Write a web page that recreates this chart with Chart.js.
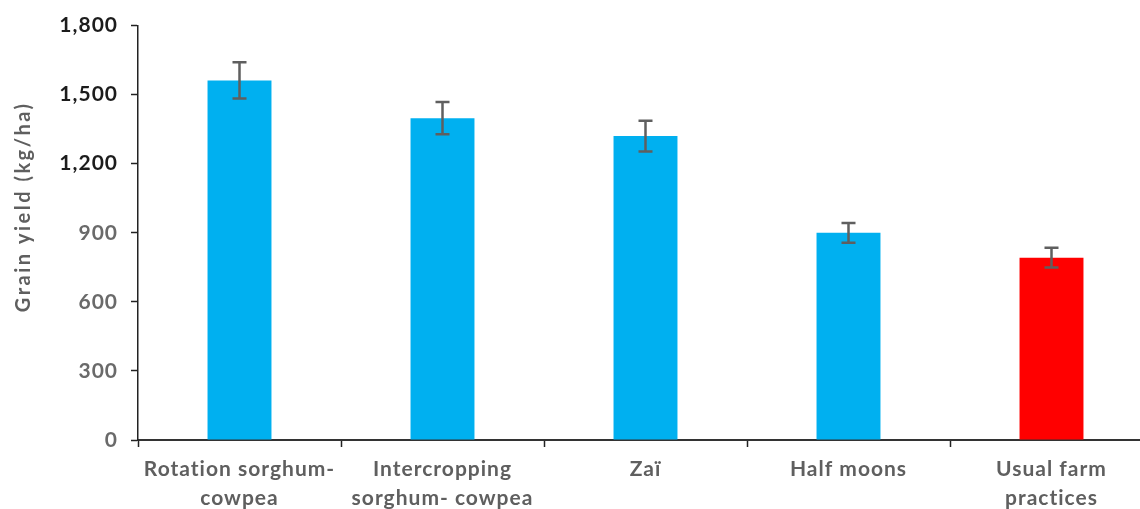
<!DOCTYPE html>
<html>
<head>
<meta charset="utf-8">
<script src="https://cdn.jsdelivr.net/npm/chart.js@4/dist/chart.umd.min.js"></script>
<style>
  html, body { margin: 0; padding: 0; background: #fff; overflow: hidden; }
  #wrap { position: relative; width: 1156px; height: 509px; }
</style>
</head>
<body>
<div id="wrap"><canvas id="c"></canvas></div>
<script>
// Sorghum grain yield by soil and water conservation practice
const categories = [
  ["Rotation sorghum-", "cowpea"],
  ["Intercropping", "sorghum- cowpea"],
  "Zaï",
  "Half moons",
  ["Usual farm", "practices"]
];
const yieldValues = [1562, 1398, 1320, 900, 792];
const yieldErrors = [79, 70, 67, 43, 43];
const barColors = ["#00B0F0", "#00B0F0", "#00B0F0", "#00B0F0", "#FF0000"];
const yTicks = [0, 300, 600, 900, 1200, 1500, 1800];
const yTitle = "Grain yield (kg/ha)";

const FONT = "Lato, 'Open Sans', sans-serif";

// slightly loose letter spacing for every label on the canvas
const spacingPlugin = {
  id: 'spacing',
  beforeUpdate(chart) { chart.ctx.letterSpacing = '1px'; },
  beforeDraw(chart) { chart.ctx.letterSpacing = '1px'; }
};

// error bars (± value) drawn on top of each bar
const errorBarPlugin = {
  id: 'errorBars',
  afterDatasetsDraw(chart) {
    const { ctx, scales: { x, y } } = chart;
    ctx.save();
    ctx.strokeStyle = '#5f5f5f';
    ctx.lineWidth = 2.5;
    yieldValues.forEach((v, i) => {
      const cx = x.getPixelForValue(i);
      const top = y.getPixelForValue(v + yieldErrors[i]);
      const bot = y.getPixelForValue(v - yieldErrors[i]);
      const half = 7;
      ctx.beginPath();
      ctx.moveTo(cx, top); ctx.lineTo(cx, bot);
      ctx.moveTo(cx - half, top); ctx.lineTo(cx + half, top);
      ctx.moveTo(cx - half, bot); ctx.lineTo(cx + half, bot);
      ctx.stroke();
    });
    ctx.restore();
  }
};

// vertical axis title, placed a little above the plot's middle
const yTitlePlugin = {
  id: 'yTitle',
  afterDraw(chart) {
    const { ctx, chartArea } = chart;
    ctx.save();
    ctx.translate(24, (chartArea.top + chartArea.bottom) / 2 - 26);
    ctx.rotate(-Math.PI / 2);
    ctx.fillStyle = '#5f5f5f';
    ctx.letterSpacing = '2.5px';
    ctx.font = "bold 20px " + FONT;
    ctx.textAlign = 'center';
    ctx.textBaseline = 'middle';
    ctx.fillText(yTitle, 0, 0);
    ctx.restore();
  }
};

new Chart(document.getElementById('c'), {
  type: 'bar',
  data: {
    labels: categories,
    datasets: [{
      data: yieldValues,
      backgroundColor: barColors,
      borderWidth: 0,
      barPercentage: 0.315,
      categoryPercentage: 1
    }]
  },
  options: {
    responsive: true,
    maintainAspectRatio: false,
    animation: false,
    layout: { padding: { top: 24, right: 3, left: 0, bottom: 0 } },
    plugins: { legend: { display: false }, tooltip: { enabled: false } },
    scales: {
      x: {
        offset: true,
        grid: {
          offset: true,
          drawOnChartArea: false,
          drawTicks: true,
          tickLength: 7,
          tickWidth: 1.5,
          tickColor: '#222'
        },
        border: { color: '#333', width: 2 },
        ticks: {
          color: '#5f5f5f',
          font: { family: FONT, size: 21, weight: 'bold', lineHeight: 1.38 },
          padding: 8,
          maxRotation: 0,
          autoSkip: false
        },
        afterFit(scale) { scale.height = 69; }
      },
      y: {
        min: 0,
        max: 1800,
        afterBuildTicks(scale) { scale.ticks = yTicks.map(v => ({ value: v })); },
        grid: {
          drawOnChartArea: false,
          drawTicks: true,
          tickLength: 7,
          tickWidth: 1.5,
          tickColor: '#222'
        },
        border: { color: '#222', width: 1.5 },
        ticks: {
          padding: 13,
          font: { family: FONT, size: 21, weight: 'bold' },
          color: ctx => ctx.tick && ctx.tick.value >= 1200 ? '#1c1c1c' : '#6a6a6a',
          callback: v => v.toLocaleString('en-US')
        },
        afterFit(scale) { scale.width = 138; }
      }
    }
  },
  plugins: [spacingPlugin, errorBarPlugin, yTitlePlugin]
});
</script>
</body>
</html>
